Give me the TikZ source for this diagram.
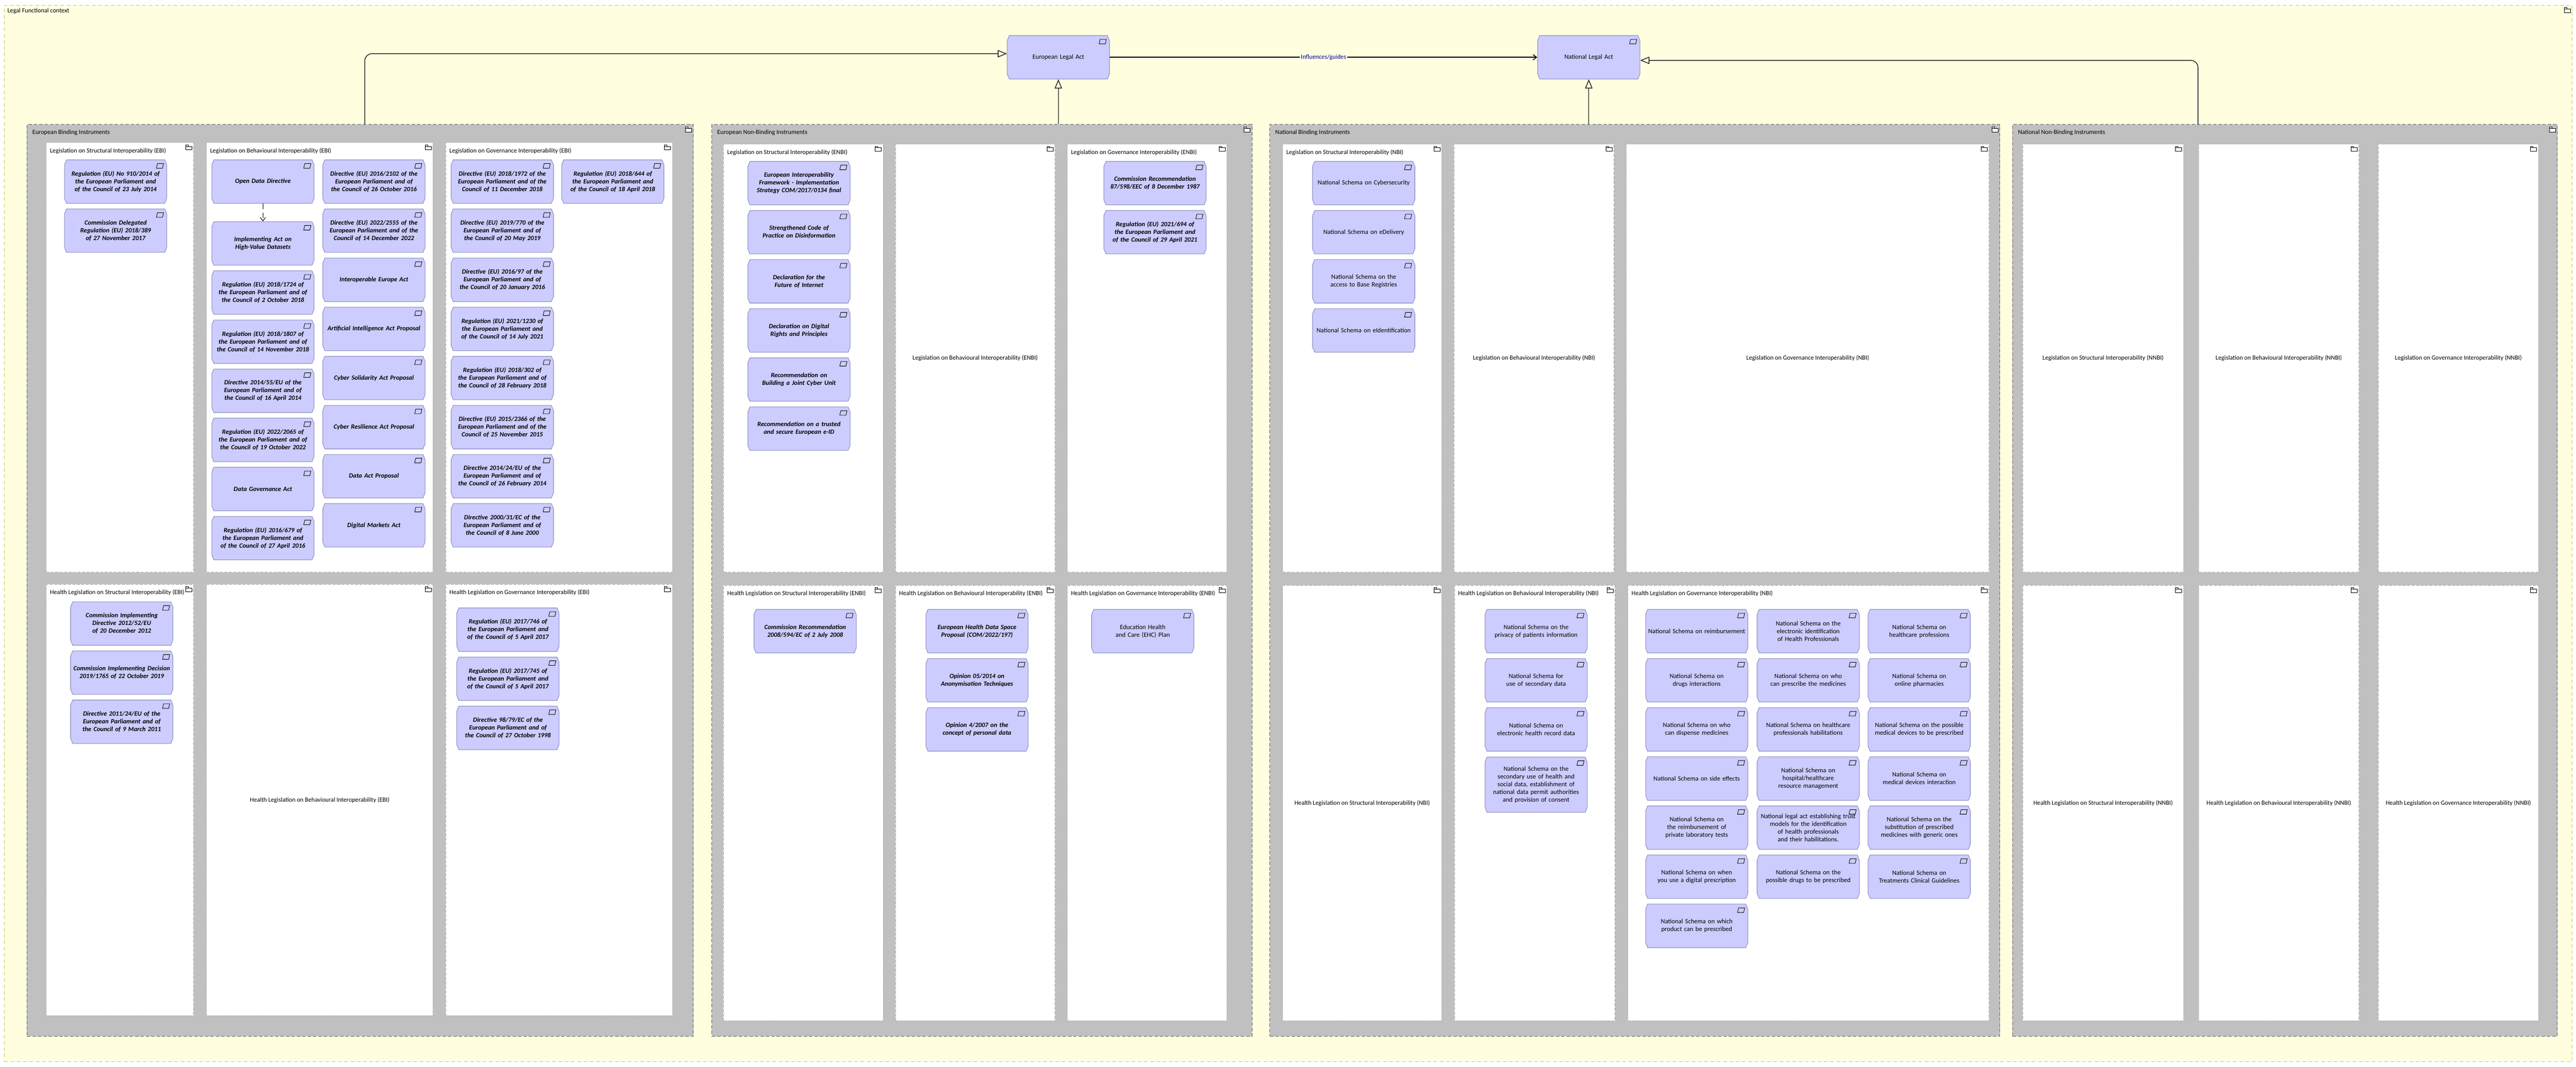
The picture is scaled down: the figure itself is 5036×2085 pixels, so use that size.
\documentclass[tikz,border=0pt]{standalone}
\usepackage{fontspec}
\setmainfont{Carlito}
\usetikzlibrary{arrows.meta,positioning}
\hyphenpenalty=10000
\exhyphenpenalty=10000
\definecolor{ctxfill}{HTML}{FFFFE0}
\definecolor{ctxline}{HTML}{C8C864}
\definecolor{grpfill}{HTML}{C0C0C0}
\definecolor{actfill}{HTML}{CCCCFF}
\definecolor{actline}{HTML}{8C8CC0}
\tikzset{
  context/.style={rectangle, draw=ctxline, line width=0.3pt, dash pattern=on 2pt off 1.5pt, fill=ctxfill, inner sep=0pt},
  group/.style={rectangle, draw=gray!80!black, line width=0.3pt, dash pattern=on 2pt off 1pt, fill=grpfill, inner sep=0pt},
  lane/.style={rectangle, draw=gray!60, line width=0.3pt, dash pattern=on 1.5pt off 1pt, fill=white, inner sep=0pt},
  actshape/.style={draw=actline, line width=0.3pt, fill=actfill},
  act/.style={rectangle, inner sep=0pt, text width=1.9cm, align=center,
    font=\fontsize{3.6}{4.3}\selectfont\bfseries\itshape},
  plainact/.style={act, font=\fontsize{3.6}{4.3}\selectfont},
  lbl/.style={anchor=north west, inner sep=0pt, font=\fontsize{3.5}{4.2}\selectfont},
  midlbl/.style={inner sep=0pt, font=\fontsize{3.5}{4.2}\selectfont},
  icon/.style={draw=black, line width=0.25pt, fill=white},
  realize/.style={draw, line width=0.35pt, -{Triangle[open, length=5pt, width=4pt]}},
  influence/.style={draw, line width=0.45pt, -{Straight Barb[length=2pt, width=3pt]}},
}
% name, style, x1, y1, x2, y2
\newcommand{\region}[6]{\node (#1) [#2, anchor=north west, minimum width={(#5-#3)*0.01cm}, minimum height={(#6-#4)*0.01cm}] at (#3,#4) {};}
% small folder mark in the top right corner of a region
\newcommand{\foldermark}[1]{\draw [icon, shift={(#1.north east)}] (-16,8) rectangle (-4,15) (-16,8) -- (-16,5) -- (-11,5) -- (-11,8);}
% [height], name, style, x, y, text: chamfered act box with its mark
\newcommand{\act}[6][85]{%
  \draw [actshape, shift={({#4},{#5})}] (-96,-#1/2) -- (96,-#1/2) -- (100,-#1/2+10) -- (100,#1/2-10)
    -- (96,#1/2) -- (-96,#1/2) -- (-100,#1/2-10) -- (-100,-#1/2+10) -- cycle;
  \node (#2) [#3, minimum width=2cm, minimum height=#1*0.01cm] at ({#4},{#5}) {#6};
  \draw [icon, fill=none, shift={(#2.north east)}] (-19,8) -- (-7,8) -- (-9,17) -- (-21,17) -- cycle;}
\begin{document}
\begin{tikzpicture}[x=0.01cm, y=-0.01cm]
\useasboundingbox (0,0) rectangle (5036,2085);
\region{ctx}{context}{8}{10}{5028}{2075}
\node [lbl] at (14,15) {Legal Functional context};

% top level acts
\act{eula}{plainact}{2069}{112}{European Legal Act}
\act{nla}{plainact}{3106}{112}{National Legal Act}

% groups
\region{ebi}{group}{52}{243}{1355}{2025}
\region{enbi}{group}{1391}{243}{2447}{2025}
\region{nbi}{group}{2482}{243}{3909}{2025}
\region{nnbi}{group}{3934}{243}{4999}{2025}
\node [lbl] at ([shift={(3pt,-3pt)}]ebi.north west) {European Binding Instruments};
\node [lbl] at ([shift={(3pt,-3pt)}]enbi.north west) {European Non-Binding Instruments};
\node [lbl] at ([shift={(3pt,-3pt)}]nbi.north west) {National Binding Instruments};
\node [lbl] at ([shift={(3pt,-3pt)}]nnbi.north west) {National Non-Binding Instruments};

% lanes, upper row
\region{ebiS}{lane}{90}{278}{378}{1118}
\region{ebiB}{lane}{403}{278}{846}{1118}
\region{ebiG}{lane}{871}{278}{1314}{1118}
\region{enbiS}{lane}{1414}{281}{1726}{1118}
\region{enbiB}{lane}{1750}{281}{2062}{1118}
\region{enbiG}{lane}{2086}{281}{2398}{1118}
\region{nbiS}{lane}{2507}{281}{2818}{1118}
\region{nbiB}{lane}{2842}{281}{3155}{1118}
\region{nbiG}{lane}{3179}{281}{3888}{1118}
\region{nnbiS}{lane}{3954}{281}{4268}{1118}
\region{nnbiB}{lane}{4298}{281}{4611}{1118}
\region{nnbiG}{lane}{4649}{281}{4962}{1118}
% lanes, lower row
\region{ebiHS}{lane}{90}{1142}{378}{1985}
\region{ebiHB}{lane}{403}{1142}{846}{1985}
\region{ebiHG}{lane}{871}{1142}{1314}{1985}
\region{enbiHS}{lane}{1414}{1144}{1726}{1995}
\region{enbiHB}{lane}{1750}{1144}{2062}{1995}
\region{enbiHG}{lane}{2086}{1144}{2398}{1995}
\region{nbiHS}{lane}{2507}{1144}{2818}{1995}
\region{nbiHB}{lane}{2843}{1144}{3157}{1995}
\region{nbiHG}{lane}{3182}{1144}{3888}{1995}
\region{nnbiHS}{lane}{3954}{1144}{4268}{1995}
\region{nnbiHB}{lane}{4298}{1144}{4611}{1995}
\region{nnbiHG}{lane}{4649}{1144}{4962}{1995}
\foreach \n in {ctx,ebi,enbi,nbi,nnbi} {\foldermark{\n}}
\foreach \g in {ebi,enbi,nbi,nnbi} {
  \foreach \s in {S,B,G,HS,HB,HG} {\foldermark{\g\s}}
}

% lane titles
\node [lbl] at ([shift={(2pt,-3pt)}]ebiS.north west) {Legislation on Structural Interoperability (EBI)};
\node [lbl] at ([shift={(2pt,-3pt)}]ebiB.north west) {Legislation on Behavioural Interoperability (EBI)};
\node [lbl] at ([shift={(2pt,-3pt)}]ebiG.north west) {Legislation on Governance Interoperability (EBI)};
\node [lbl] at ([shift={(2pt,-3pt)}]ebiHS.north west) {Health Legislation on Structural Interoperability (EBI)};
\node [midlbl] at (ebiHB.center) {Health Legislation on Behavioural Interoperability (EBI)};
\node [lbl] at ([shift={(2pt,-3pt)}]ebiHG.north west) {Health Legislation on Governance Interoperability (EBI)};
\node [lbl] at ([shift={(2pt,-3pt)}]enbiS.north west) {Legislation on Structural Interoperability (ENBI)};
\node [midlbl] at (enbiB.center) {Legislation on Behavioural Interoperability (ENBI)};
\node [lbl] at ([shift={(2pt,-3pt)}]enbiG.north west) {Legislation on Governance Interoperability (ENBI)};
\node [lbl] at ([shift={(2pt,-3pt)}]enbiHS.north west) {Health Legislation on Structural Interoperability (ENBI)};
\node [lbl] at ([shift={(2pt,-3pt)}]enbiHB.north west) {Health Legislation on Behavioural Interoperability (ENBI)};
\node [lbl] at ([shift={(2pt,-3pt)}]enbiHG.north west) {Health Legislation on Governance Interoperability (ENBI)};
\node [lbl] at ([shift={(2pt,-3pt)}]nbiS.north west) {Legislation on Structural Interoperability (NBI)};
\node [midlbl] at (nbiB.center) {Legislation on Behavioural Interoperability (NBI)};
\node [midlbl] at (nbiG.center) {Legislation on Governance Interoperability (NBI)};
\node [midlbl] at (nbiHS.center) {Health Legislation on Structural Interoperability (NBI)};
\node [lbl] at ([shift={(2pt,-3pt)}]nbiHB.north west) {Health Legislation on Behavioural Interoperability (NBI)};
\node [lbl] at ([shift={(2pt,-3pt)}]nbiHG.north west) {Health Legislation on Governance Interoperability (NBI)};
\node [midlbl] at (nnbiS.center) {Legislation on Structural Interoperability (NNBI)};
\node [midlbl] at (nnbiB.center) {Legislation on Behavioural Interoperability (NNBI)};
\node [midlbl] at (nnbiG.center) {Legislation on Governance Interoperability (NNBI)};
\node [midlbl] at (nnbiHS.center) {Health Legislation on Structural Interoperability (NNBI)};
\node [midlbl] at (nnbiHB.center) {Health Legislation on Behavioural Interoperability (NNBI)};
\node [midlbl] at (nnbiHG.center) {Health Legislation on Governance Interoperability (NNBI)};

% European binding
\foreach \t [count=\i from 0] in {{Regulation (EU) No 910/2014 of the European Parliament and of the Council of 23 July 2014},
  {Commission Delegated Regulation (EU) 2018/389 of 27 November 2017}}
  {\act{es\i}{act}{226}{355+96*\i}{\t}}
\act{open}{act}{514}{355}{Open Data Directive}
\foreach \t [count=\i from 0] in {{Implementing Act on High-Value Datasets},
  {Regulation (EU) 2018/1724 of the European Parliament and of the Council of 2 October 2018},
  {Regulation (EU) 2018/1807 of the European Parliament and of the Council of 14 November 2018},
  {Directive 2014/55/EU of the European Parliament and of the Council of 16 April 2014},
  {Regulation (EU) 2022/2065 of the European Parliament and of the Council of 19 October 2022},
  {Data Governance Act},
  {Regulation (EU) 2016/679 of the European Parliament and of the Council of 27 April 2016}}
  {\act{eb\i}{act}{514}{476+96*\i}{\t}}
\foreach \t [count=\i from 0] in {{Directive (EU) 2016/2102 of the European Parliament and of the Council of 26 October 2016},
  {Directive (EU) 2022/2555 of the European Parliament and of the Council of 14 December 2022},
  {Interoperable Europe Act}, {Artificial Intelligence Act Proposal}, {Cyber Solidarity Act Proposal},
  {Cyber Resilience Act Proposal}, {Data Act Proposal}, {Digital Markets Act}}
  {\act{ec\i}{act}{731}{355+96*\i}{\t}}
\foreach \t [count=\i from 0] in {{Directive (EU) 2018/1972 of the European Parliament and of the Council of 11 December 2018},
  {Directive (EU) 2019/770 of the European Parliament and of the Council of 20 May 2019},
  {Directive (EU) 2016/97 of the European Parliament and of the Council of 20 January 2016},
  {Regulation (EU) 2021/1230 of the European Parliament and of the Council of 14 July 2021},
  {Regulation (EU) 2018/302 of the European Parliament and of the Council of 28 February 2018},
  {Directive (EU) 2015/2366 of the European Parliament and of the Council of 25 November 2015},
  {Directive 2014/24/EU of the European Parliament and of the Council of 26 February 2014},
  {Directive 2000/31/EC of the European Parliament and of the Council of 8 June 2000}}
  {\act{eg\i}{act}{982}{355+96*\i}{\t}}
\act{eg8}{act}{1198}{355}{Regulation (EU) 2018/644 of the European Parliament and of the Council of 18 April 2018}
\foreach \t [count=\i from 0] in {{Commission Implementing Directive 2012/52/EU of 20 December 2012},
  {Commission Implementing Decision 2019/1765 of 22 October 2019},
  {Directive 2011/24/EU of the European Parliament and of the Council of 9 March 2011}}
  {\act{ehs\i}{act}{238}{1219+96*\i}{\t}}
\foreach \t [count=\i from 0] in {{Regulation (EU) 2017/746 of the European Parliament and of the Council of 5 April 2017},
  {Regulation (EU) 2017/745 of the European Parliament and of the Council of 5 April 2017},
  {Directive 98/79/EC of the European Parliament and of the Council of 27 October 1998}}
  {\act{ehg\i}{act}{993}{1231+96*\i}{\t}}
\draw [densely dashed, line width=0.3pt, -{Straight Barb[length=2pt, width=3pt]}] (open) -- (eb0);

% European non-binding
\foreach \t [count=\i from 0] in {{European Interoperability Framework - Implementation Strategy COM/2017/0134 final},
  {Strengthened Code of Practice on Disinformation}, {Declaration for the Future of Internet},
  {Declaration on Digital Rights and Principles}, {Recommendation on Building a Joint Cyber Unit},
  {Recommendation on a trusted and secure European e-ID}}
  {\act{ns\i}{act}{1562}{358+96*\i}{\t}}
\foreach \t [count=\i from 0] in {{Commission Recommendation 87/598/EEC of 8 December 1987},
  {Regulation (EU) 2021/694 of the European Parliament and of the Council of 29 April 2021}}
  {\act{ng\i}{act}{2258}{358+96*\i}{\t}}
\act{nhs0}{act}{1574}{1234}{Commission Recommendation 2008/594/EC of 2 July 2008}
\foreach \t [count=\i from 0] in {{European Health Data Space Proposal (COM/2022/197)},
  {Opinion 05/2014 on Anonymisation Techniques}, {Opinion 4/2007 on the concept of personal data}}
  {\act{nhb\i}{act}{1910}{1234+96*\i}{\t}}
\act{nhg0}{plainact}{2234}{1234}{Education Health and Care (EHC) Plan}

% National binding
\foreach \t [count=\i from 0] in {{National Schema on Cybersecurity}, {National Schema on eDelivery},
  {National Schema on the access to Base Registries}, {National Schema on eIdentification}}
  {\act{ks\i}{plainact}{2666}{358+96*\i}{\t}}
\foreach \t [count=\i from 0] in {{National Schema on the privacy of patients information},
  {National Schema for use of secondary data}, {National Schema on electronic health record data}}
  {\act{khb\i}{plainact}{3003}{1234+96*\i}{\t}}
\act[108]{khb3}{plainact}{3003}{1534}{National Schema on the secondary use of health and social data, establishment of national data permit authorities and provision of consent}
\foreach \t [count=\i from 0] in {{National Schema on reimbursement}, {National Schema on drugs interactions},
  {National Schema on who can dispense medicines}, {National Schema on side effects},
  {National Schema on the reimbursement of private laboratory tests},
  {National Schema on when you use a digital prescription},
  {National Schema on which product can be prescribed}}
  {\act{kg\i}{plainact}{3317}{1234+96*\i}{\t}}
\foreach \t [count=\i from 0] in {{National Schema on the electronic identification of Health Professionals},
  {National Schema on who can prescribe the medicines},
  {National Schema on healthcare professionals habilitations},
  {National Schema on hospital/healthcare resource management},
  {National legal act establishing trust models for the identification of health professionals and their habilitations.},
  {National Schema on the possible drugs to be prescribed}}
  {\act{kh\i}{plainact}{3535}{1234+96*\i}{\t}}
\foreach \t [count=\i from 0] in {{National Schema on healthcare professions},
  {National Schema on online pharmacies},
  {National Schema on the possible medical devices to be prescribed},
  {National Schema on medical devices interaction},
  {National Schema on the substitution of prescribed medicines with generic ones},
  {National Schema on Treatments Clinical Guidelines}}
  {\act{ki\i}{plainact}{3752}{1234+96*\i}{\t}}

% relations
\draw [realize, rounded corners=4pt] (ebi.north -| 713,0) |- ([yshift=0.07cm]eula.west);
\draw [realize] (eula.south |- enbi.north) -- (eula);
\draw [realize] (nla.south |- nbi.north) -- (nla);
\draw [realize, rounded corners=4pt] (nnbi.north -| 4297,0) |- ([yshift=-0.06cm]nla.east);
\draw [influence] (eula) -- node [fill=ctxfill, inner sep=0.5pt, text=blue!60!black, font=\fontsize{3.5}{4}\selectfont] {Influences/guides} (nla);
\end{tikzpicture}
\end{document}
